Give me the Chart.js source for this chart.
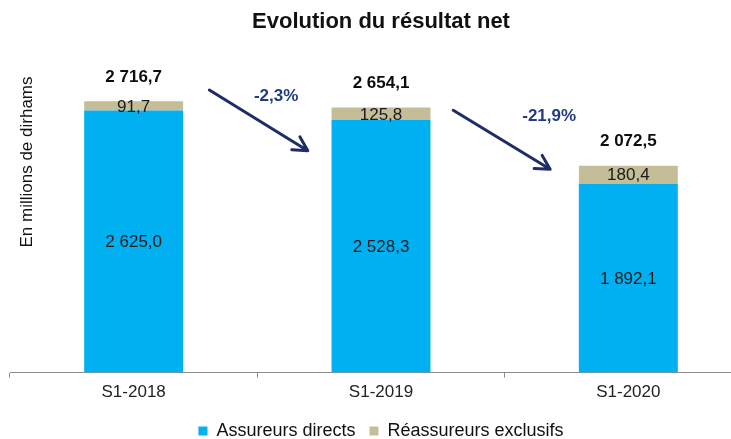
<!DOCTYPE html>
<html><head><meta charset="utf-8">
<script src="https://cdn.jsdelivr.net/npm/chart.js@4/dist/chart.umd.min.js"></script>
<style>
html,body{margin:0;padding:0;background:#fff;overflow:hidden;width:731px;height:439px}
#wrap{position:absolute;left:0;top:0;width:762px;height:450px}
</style>
</head><body><div id="wrap"><canvas id="c" width="762" height="450"></canvas></div>
<script>
const categories = ['S1-2018', 'S1-2019', 'S1-2020'];
const assureursDirects = [2625.0, 2528.3, 1892.1];
const reassureursExclusifs = [91.7, 125.8, 180.4];
const totals = [2716.7, 2654.1, 2072.5];
const evolutions = ['-2,3%', '-21,9%'];
const seriesNames = ['Assureurs directs', 'Réassureurs exclusifs'];
const yAxisTitle = 'En millions de dirhams';
const chartTitle = 'Evolution du résultat net';

const FAMILY = '"Liberation Sans", Arial, sans-serif';

function fmt(v) {
  const s = v.toFixed(1).split('.');
  return s[0].replace(/\B(?=(\d{3})+(?!\d))/g, ' ') + ',' + s[1];
}

function drawArrow(ctx, x1, y1, x2, y2) {
  ctx.save();
  ctx.strokeStyle = '#1F2D66';
  ctx.lineWidth = 3;
  ctx.lineCap = 'round';
  ctx.lineJoin = 'round';
  ctx.beginPath();
  ctx.moveTo(x1, y1);
  ctx.lineTo(x2, y2);
  const ang = Math.atan2(y2 - y1, x2 - x1);
  const L = 16, a = 0.5;
  ctx.moveTo(x2 - L * Math.cos(ang - a), y2 - L * Math.sin(ang - a));
  ctx.lineTo(x2, y2);
  ctx.lineTo(x2 - L * Math.cos(ang + a), y2 - L * Math.sin(ang + a));
  ctx.stroke();
  ctx.restore();
}

const labelsPlugin = {
  id: 'labels',
  afterDatasetsDraw(chart) {
    const ctx = chart.ctx;
    const xs = chart.scales.x, ys = chart.scales.y;
    ctx.save();
    ctx.textAlign = 'center';
    ctx.textBaseline = 'middle';
    // segment labels
    chart.data.datasets.forEach((ds, di) => {
      const meta = chart.getDatasetMeta(di);
      meta.data.forEach((bar, i) => {
        const p = bar.getProps(['x', 'y', 'base'], true);
        ctx.font = '17px ' + FAMILY;
        ctx.fillStyle = '#1a1a1a';
        ctx.fillText(fmt(ds.data[i]), p.x, (p.y + p.base) / 2 + 1);
      });
    });
    // totals
    ctx.font = 'bold 17px ' + FAMILY;
    ctx.fillStyle = '#0d0d0d';
    totals.forEach((t, i) => {
      ctx.fillText(fmt(t), xs.getPixelForValue(i), ys.getPixelForValue(t) - 24);
    });
    // evolution arrows (positions in category index / data value space)
    const cw = xs.getPixelForValue(1) - xs.getPixelForValue(0);
    const px = (f) => xs.getPixelForValue(0) + f * cw;
    const arrowDefs = [
      { x1: 0.306, v1: 2830, x2: 0.704, v2: 2222, lx: 0.576, lv: 2771 },
      { x1: 1.292, v1: 2627, x2: 1.684, v2: 2036, lx: 1.68, lv: 2563 }
    ];
    arrowDefs.forEach((a, i) => {
      drawArrow(ctx, px(a.x1), ys.getPixelForValue(a.v1), px(a.x2), ys.getPixelForValue(a.v2));
      ctx.font = 'bold 17px ' + FAMILY;
      ctx.fillStyle = '#203C80';
      ctx.fillText(evolutions[i], px(a.lx), ys.getPixelForValue(a.lv));
    });
    ctx.restore();
  },
  afterDraw(chart) {
    const ctx = chart.ctx;
    ctx.save();
    ctx.translate(27, 162);
    ctx.rotate(-Math.PI / 2);
    ctx.textAlign = 'center';
    ctx.textBaseline = 'middle';
    ctx.font = '17px ' + FAMILY;
    ctx.fillStyle = '#111';
    ctx.fillText(yAxisTitle, 0, 0);
    ctx.restore();
  }
};

new Chart(document.getElementById('c'), {
  type: 'bar',
  data: {
    labels: categories,
    datasets: [
      { label: seriesNames[0], data: assureursDirects, backgroundColor: '#00B0F0', borderWidth: 0, barPercentage: 0.4, categoryPercentage: 1 },
      { label: seriesNames[1], data: reassureursExclusifs, backgroundColor: '#C4BD97', borderWidth: 0, barPercentage: 0.4, categoryPercentage: 1 }
    ]
  },
  options: {
    responsive: false,
    animation: false,
    devicePixelRatio: 1,
    layout: { padding: { left: 10, right: 10, top: 0, bottom: 0 } },
    scales: {
      x: {
        stacked: true,
        grid: { display: true, drawOnChartArea: false, drawTicks: true, tickLength: 5, color: '#8c8c8c' },
        border: { display: true, color: '#8c8c8c', width: 1 },
        ticks: { color: '#222', font: { size: 17, family: FAMILY }, padding: 5 }
      },
      y: { stacked: true, display: false, min: 0, max: 3000 }
    },
    plugins: {
      title: {
        display: true, text: chartTitle, color: '#111',
        font: { size: 22, weight: 'bold', family: FAMILY },
        padding: { top: 8.8, bottom: 37.8 }
      },
      legend: {
        position: 'bottom',
        labels: { boxWidth: 9, boxHeight: 9, padding: 14, color: '#111', font: { size: 18, family: FAMILY } }
      },
      tooltip: { enabled: false }
    }
  },
  plugins: [labelsPlugin]
});
</script>
</body></html>
